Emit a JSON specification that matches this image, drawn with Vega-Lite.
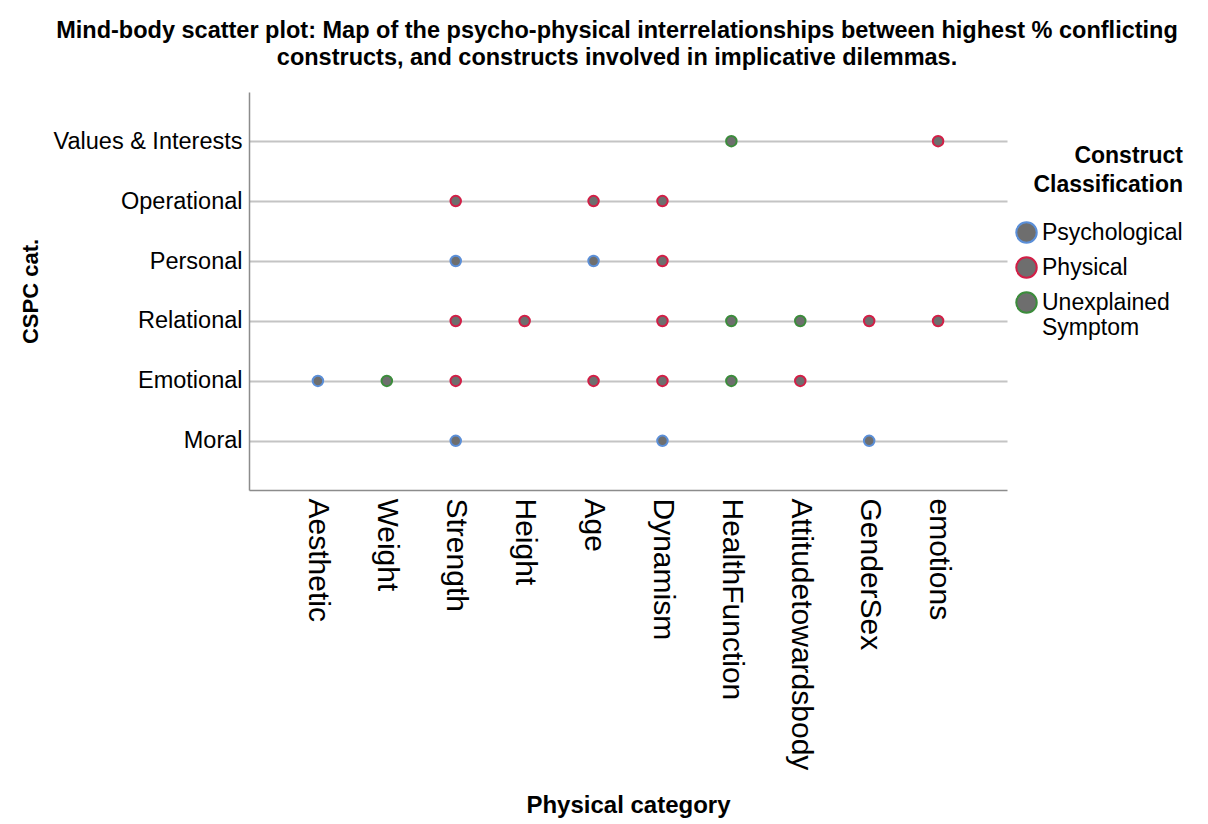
{
  "$schema": "https://vega.github.io/schema/vega-lite/v6.json",
  "width": 758,
  "height": 398,
  "autosize": "none",
  "padding": {"left": 249, "top": 92, "right": 201, "bottom": 334},
  "background": "white",
  "title": {
    "text": ["Mind-body scatter plot: Map of the psycho-physical interrelationships between highest % conflicting", "constructs, and constructs involved in implicative dilemmas."],
    "font": "Liberation Sans",
    "fontSize": 23.5,
    "fontWeight": "bold",
    "color": "black",
    "anchor": "middle",
    "offset": 23,
    "lineHeight": 27,
    "dx": -11
  },
  "data": {
    "values": [
      {"phys": "HealthFunction", "cspc": "Values & Interests", "cls": "Unexplained Symptom"},
      {"phys": "emotions", "cspc": "Values & Interests", "cls": "Physical"},
      {"phys": "Strength", "cspc": "Operational", "cls": "Physical"},
      {"phys": "Age", "cspc": "Operational", "cls": "Physical"},
      {"phys": "Dynamism", "cspc": "Operational", "cls": "Physical"},
      {"phys": "Strength", "cspc": "Personal", "cls": "Psychological"},
      {"phys": "Age", "cspc": "Personal", "cls": "Psychological"},
      {"phys": "Dynamism", "cspc": "Personal", "cls": "Physical"},
      {"phys": "Strength", "cspc": "Relational", "cls": "Physical"},
      {"phys": "Height", "cspc": "Relational", "cls": "Physical"},
      {"phys": "Dynamism", "cspc": "Relational", "cls": "Physical"},
      {"phys": "HealthFunction", "cspc": "Relational", "cls": "Unexplained Symptom"},
      {"phys": "Attitudetowardsbody", "cspc": "Relational", "cls": "Unexplained Symptom"},
      {"phys": "GenderSex", "cspc": "Relational", "cls": "Physical"},
      {"phys": "emotions", "cspc": "Relational", "cls": "Physical"},
      {"phys": "Aesthetic", "cspc": "Emotional", "cls": "Psychological"},
      {"phys": "Weight", "cspc": "Emotional", "cls": "Unexplained Symptom"},
      {"phys": "Strength", "cspc": "Emotional", "cls": "Physical"},
      {"phys": "Age", "cspc": "Emotional", "cls": "Physical"},
      {"phys": "Dynamism", "cspc": "Emotional", "cls": "Physical"},
      {"phys": "HealthFunction", "cspc": "Emotional", "cls": "Unexplained Symptom"},
      {"phys": "Attitudetowardsbody", "cspc": "Emotional", "cls": "Physical"},
      {"phys": "Strength", "cspc": "Moral", "cls": "Psychological"},
      {"phys": "Dynamism", "cspc": "Moral", "cls": "Psychological"},
      {"phys": "GenderSex", "cspc": "Moral", "cls": "Psychological"}
    ]
  },
  "mark": {"type": "point", "shape": "circle", "filled": false, "fill": "#6e6e6e", "fillOpacity": 1, "strokeWidth": 2, "size": 110, "opacity": 1},
  "encoding": {
    "x": {
      "field": "phys", "type": "nominal",
      "sort": ["Aesthetic", "Weight", "Strength", "Height", "Age", "Dynamism", "HealthFunction", "Attitudetowardsbody", "GenderSex", "emotions"],
      "scale": {"type": "point", "padding": 1},
      "axis": {
        "title": "Physical category",
        "titleFont": "Liberation Sans",
        "titleFontSize": 24, "titleFontWeight": "bold", "titleColor": "black",
        "titleY": 315, "titleBaseline": "middle",
        "labelAngle": 90, "labelAlign": "left", "labelBaseline": "middle",
        "labelFont": "Liberation Sans", "labelFontSize": 30, "labelColor": "black",
        "labelPadding": 8, "labelLimit": 400,
        "ticks": false, "grid": false,
        "domainColor": "#8c8c8c", "domainWidth": 1.5
      }
    },
    "y": {
      "field": "cspc", "type": "nominal",
      "sort": ["Values & Interests", "Operational", "Personal", "Relational", "Emotional", "Moral"],
      "scale": {"type": "point", "padding": 0.82},
      "axis": {
        "title": "CSPC cat.",
        "titleFont": "Liberation Sans", "titleFontSize": 22, "titleFontWeight": "bold", "titleColor": "black",
        "titleX": -219, "titleY": 199, "titleBaseline": "middle", "titleAngle": -90, "titleAlign": "center",
        "labelFont": "Liberation Sans", "labelFontSize": 23.5, "labelColor": "black",
        "labelPadding": 7, "labelLimit": 300,
        "ticks": false, "grid": true, "gridColor": "#c4c4c4", "gridWidth": 2,
        "domainColor": "#8c8c8c", "domainWidth": 1.5
      }
    },
    "stroke": {
      "field": "cls", "type": "nominal",
      "scale": {"domain": ["Psychological", "Physical", "Unexplained Symptom"], "range": ["#5b8fd8", "#d21f47", "#3c8c3c"]},
      "legend": {
        "title": ["Construct", "Classification"],
        "orient": "none", "legendX": 766, "legendY": 53,
        "titleFont": "Liberation Sans", "titleFontSize": 23, "titleFontWeight": "bold", "titleColor": "black",
        "titleAlign": "right", "titleAnchor": "end", "titleLineHeight": 29, "titlePadding": 24,
        "labelFont": "Liberation Sans", "labelFontSize": 23, "labelColor": "black", "labelLimit": 300,
        "labelExpr": "datum.label == 'Unexplained Symptom' ? ['Unexplained', 'Symptom'] : datum.label",
        "symbolType": "circle", "symbolSize": 420, "symbolStrokeWidth": 2, "symbolFillColor": "#6e6e6e", "symbolOpacity": 1,
        "labelOffset": 4, "rowPadding": 6
      }
    }
  },
  "config": {"view": {"stroke": null}}
}
